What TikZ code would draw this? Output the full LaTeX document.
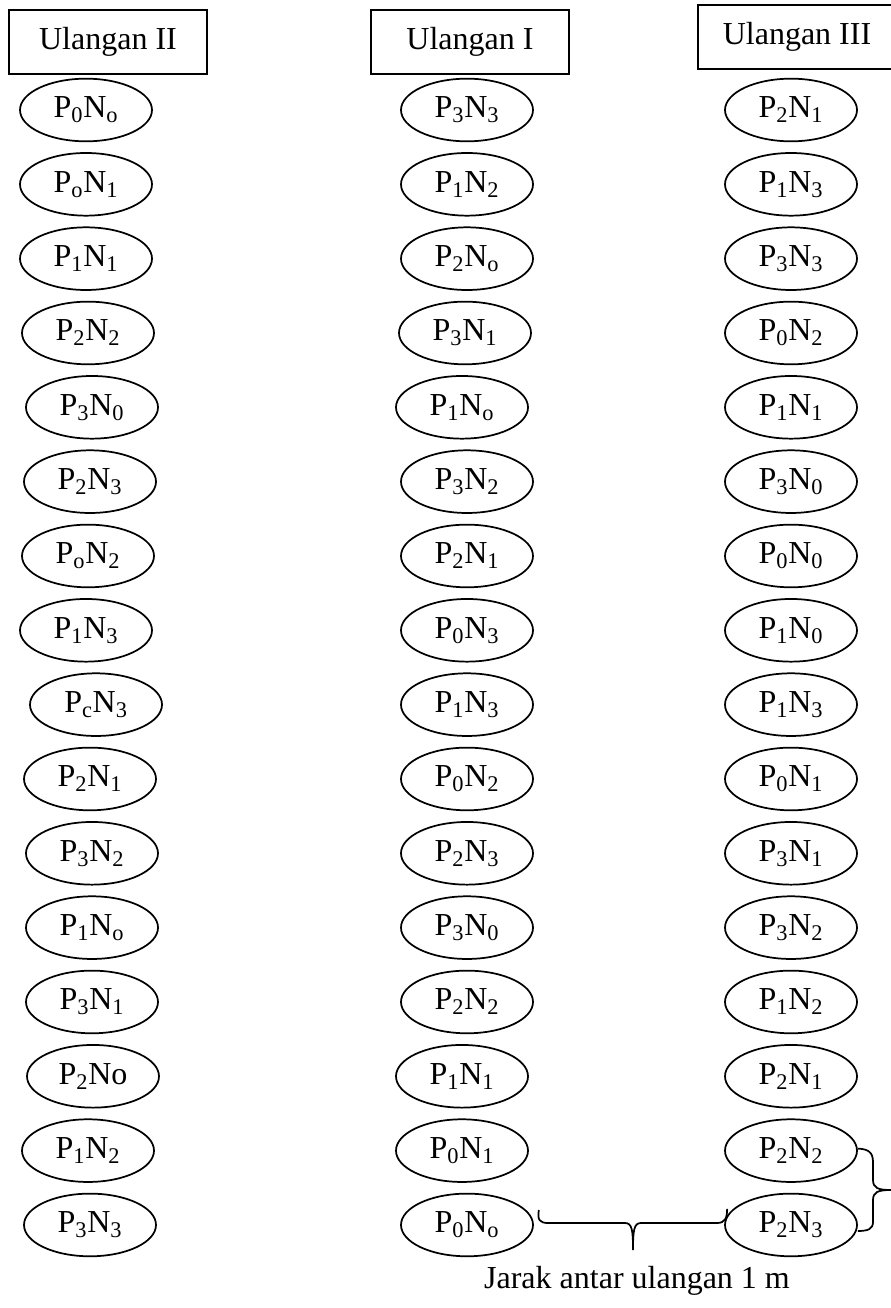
\documentclass[tikz,border=0pt]{standalone}
\usepackage{fontspec}
\setmainfont{Liberation Serif}
\usetikzlibrary{shapes.geometric,calc}
\newcommand{\pn}[2]{P\textsubscript{#1}N\textsubscript{#2}}

\begin{document}
\begin{tikzpicture}[x=0.75pt,y=0.75pt,
  plot/.style={draw, ellipse, line width=1.3pt, minimum width=99pt, minimum height=47pt,
               inner sep=0pt, font=\fontsize{24}{28}\selectfont},
  head/.style={draw, line width=1.5pt, minimum width=148pt, minimum height=48pt,
               inner sep=0pt, font=\fontsize{24}{28}\selectfont},
  brc/.style={line width=1.3pt}]
  \useasboundingbox (0,0) rectangle (891,-1308);
  % headers
  \node[head] (ulII) at (108,-42) {Ulangan II};
  \node[head] (ulI) at (470,-42) {Ulangan I};
  \node[head] (ulIII) at (797,-37) {Ulangan III};
  % ulangan II
  \foreach \x/\lab [count=\i] in {86/\pn{0}{o}, 86/\pn{o}{1}, 86/\pn{1}{1}, 88/\pn{2}{2},
      92/\pn{3}{0}, 90/\pn{2}{3}, 88/\pn{o}{2}, 86/\pn{1}{3}, 96/\pn{c}{3}, 90/\pn{2}{1},
      92/\pn{3}{2}, 92/\pn{1}{o}, 92/\pn{3}{1}, 93/P\textsubscript{2}No, 88/\pn{1}{2}, 90/\pn{3}{3}}
    \node[plot] (a\i) at (\x,{-110-74.33*(\i-1)}) {\lab};
  % ulangan I
  \foreach \x/\lab [count=\i] in {467/\pn{3}{3}, 467/\pn{1}{2}, 467/\pn{2}{o}, 465/\pn{3}{1},
      462/\pn{1}{o}, 467/\pn{3}{2}, 467/\pn{2}{1}, 467/\pn{0}{3}, 467/\pn{1}{3}, 467/\pn{0}{2},
      467/\pn{2}{3}, 467/\pn{3}{0}, 467/\pn{2}{2}, 462/\pn{1}{1}, 462/\pn{0}{1}, 467/\pn{0}{o}}
    \node[plot] (b\i) at (\x,{-110-74.33*(\i-1)}) {\lab};
  % ulangan III
  \foreach \lab [count=\i] in {\pn{2}{1}, \pn{1}{3}, \pn{3}{3}, \pn{0}{2}, \pn{1}{1}, \pn{3}{0},
      \pn{0}{0}, \pn{1}{0}, \pn{1}{3}, \pn{0}{1}, \pn{3}{1}, \pn{3}{2}, \pn{1}{2}, \pn{2}{1},
      \pn{2}{2}, \pn{2}{3}}
    \node[plot] (c\i) at (791,{-110-74.33*(\i-1)}) {\lab};
  % brace between ulangan
  \coordinate (bl) at ($(b16.east)+(5,15)$);
  \coordinate (br) at ($(c16.west)+(3,16)$);
  \draw[brc] (bl) .. controls (537,-1220) and (540,-1223) .. (548,-1223) -- (625,-1223)
    .. controls (632,-1223) and (633,-1230) .. (633,-1250)
    .. controls (633,-1230) and (634,-1223) .. (641,-1223) -- (717,-1223)
    .. controls (725,-1223) and (br |- 0,-1218) .. (br);
  % brace between plots
  \coordinate (rt) at ($(c15.east)+(0,2)$);
  \coordinate (rb) at ($(c16.east)+(0,-6)$);
  \draw[brc] (rt) .. controls (868,-1149) and (873,-1152) .. (873,-1162) -- (873,-1180)
    .. controls (873,-1188) and (878,-1190) .. (891,-1190)
    .. controls (878,-1190) and (873,-1192) .. (873,-1200) -- (873,-1222)
    .. controls (873,-1229) and (868,-1231) .. (rb);
  \node[font=\fontsize{24}{28}\selectfont] (jarak) at (637,-1281) {Jarak antar ulangan 1 m};
\end{tikzpicture}
\end{document}
